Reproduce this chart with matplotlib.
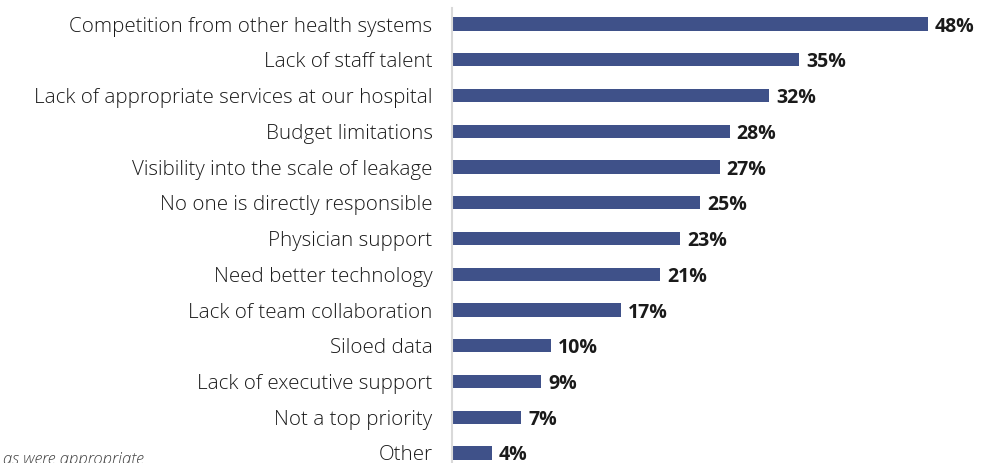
import matplotlib.pyplot as plt
import numpy as np

categories = [
    "Competition from other health systems",
    "Lack of staff talent",
    "Lack of appropriate services at our hospital",
    "Budget limitations",
    "Visibility into the scale of leakage",
    "No one is directly responsible",
    "Physician support",
    "Need better technology",
    "Lack of team collaboration",
    "Siloed data",
    "Lack of executive support",
    "Not a top priority",
    "Other",
]
values = [48, 35, 32, 28, 27, 25, 23, 21, 17, 10, 9, 7, 4]
labels = [f"{v}%" for v in values]

plt.rcParams['font.family'] = ['Open Sans', 'DejaVu Sans']

fig = plt.figure(figsize=(9.86, 4.63), dpi=100)
ax = fig.add_axes([452 / 986, 0, 1 - 452 / 986, 1 - 8 / 463])

y = np.arange(len(categories))
ax.barh(y, values, height=0.37, color='#3f5189')
for yi, v, lab in zip(y, values, labels):
    ax.text(v + 0.7, yi + 0.07, lab, va='center', ha='left',
            fontsize=14, fontweight='bold', color='#1a1a1a')

ax.set_xlim(0, 53.85)
ax.set_ylim(12.28, -0.45)
ax.set_yticks(y)
ax.set_yticklabels(categories, fontsize=14.8, color='#1a1a1a', fontweight='light')
ax.tick_params(axis='y', length=0, pad=14)
ax.set_xticks([])
for s in ['top', 'right', 'bottom']:
    ax.spines[s].set_visible(False)
ax.spines['left'].set_color('#d9d9d9')
ax.spines['left'].set_linewidth(1.5)

fig.text(3 / 986, -1 / 463, "as were appropriate", fontsize=12, style='italic',
         color='#404040', ha='left', va='baseline', fontweight='light')

fig.savefig('out.png', dpi=100)
